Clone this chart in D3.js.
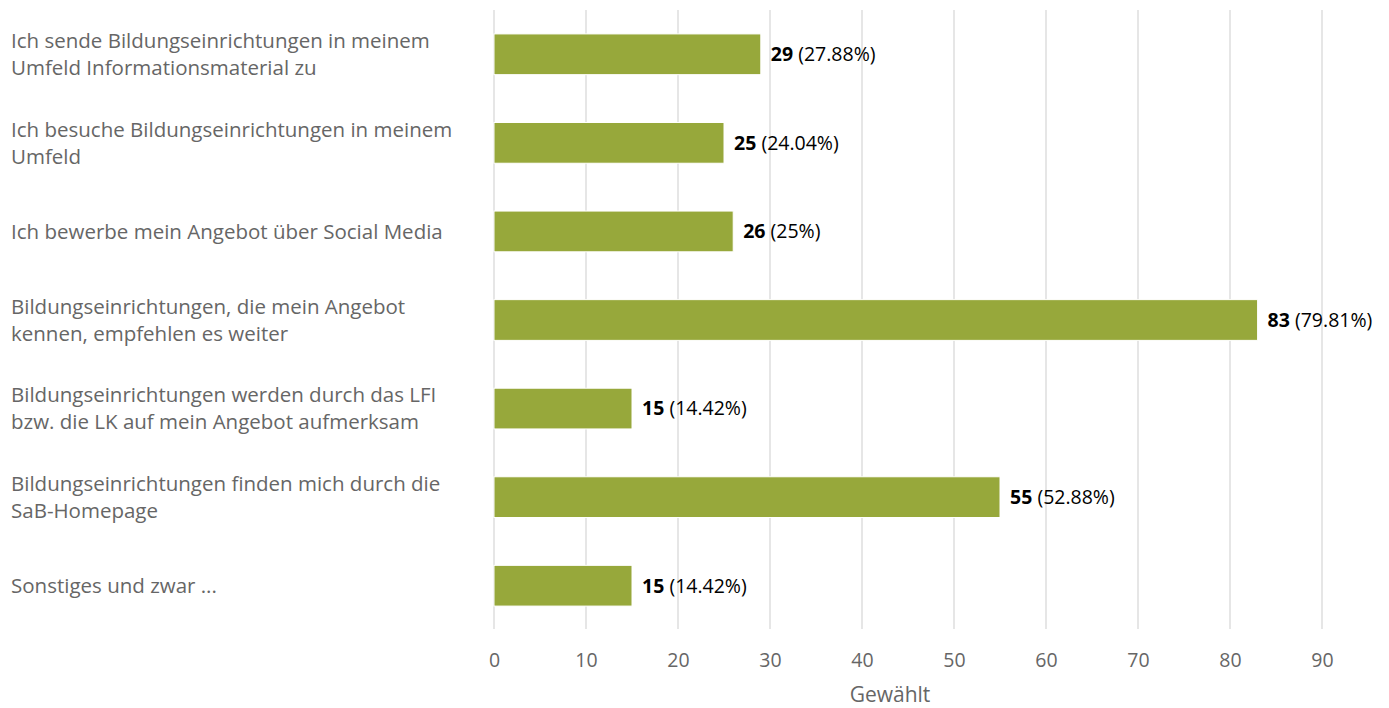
<!DOCTYPE html>
<html><head><meta charset="utf-8">
<script src="https://cdn.jsdelivr.net/npm/d3@7"></script>
<style>body{margin:0;background:#fff;font-family:"Open Sans",sans-serif;}</style>
</head><body>
<svg id="c" width="1389" height="708"></svg>
<script>
const categories = [
  ["Ich sende Bildungseinrichtungen in meinem","Umfeld Informationsmaterial zu"],
  ["Ich besuche Bildungseinrichtungen in meinem","Umfeld"],
  ["Ich bewerbe mein Angebot über Social Media"],
  ["Bildungseinrichtungen, die mein Angebot","kennen, empfehlen es weiter"],
  ["Bildungseinrichtungen werden durch das LFI","bzw. die LK auf mein Angebot aufmerksam"],
  ["Bildungseinrichtungen finden mich durch die","SaB-Homepage"],
  ["Sonstiges und zwar ..."]
];
const counts = [29, 25, 26, 83, 15, 55, 15];
const percents = ["27.88%", "24.04%", "25%", "79.81%", "14.42%", "52.88%", "14.42%"];
const ticks = [0,10,20,30,40,50,60,70,80,90];
const axisTitle = "Gewählt";

const svg = d3.select("#c");
const x = d3.scaleLinear().domain([0,90]).range([494,1322]);
const y = d3.scaleBand().domain(d3.range(categories.length)).range([10,630]).paddingInner(0.54).paddingOuter(0.27);

svg.append("g").selectAll("line").data(ticks).join("line")
  .attr("x1",d=>x(d)).attr("x2",d=>x(d)).attr("y1",10).attr("y2",629)
  .attr("stroke","#e6e6e6").attr("stroke-width",2);

const ax = svg.append("g").attr("transform","translate(0,640)")
  .call(d3.axisBottom(x).tickValues(ticks).tickSize(0).tickPadding(13));
ax.select(".domain").remove();
ax.selectAll("text").attr("font-family","Open Sans").attr("font-size",19.5).attr("fill","#666");

svg.append("text").attr("x",890).attr("y",702).attr("text-anchor","middle")
  .attr("font-size",21).attr("fill","#666").text(axisTitle);

svg.append("g").selectAll("rect").data(counts).join("rect")
  .attr("x",x(0)).attr("y",(d,i)=>y(i)).attr("width",d=>x(d)-x(0)).attr("height",y.bandwidth())
  .attr("fill","#97a83b").attr("stroke","#fff").attr("stroke-width",1);

const vl = svg.append("g").selectAll("text").data(counts).join("text")
  .attr("x",d=>x(d)+10).attr("y",(d,i)=>y(i)+y.bandwidth()/2).attr("dy","0.35em")
  .attr("font-size",19.5).attr("fill","#000");
vl.append("tspan").attr("font-weight","bold").text(d=>d);
vl.append("tspan").text((d,i)=>" ("+percents[i]+")");

const cl = svg.append("g").selectAll("text").data(categories).join("text")
  .attr("x",11).attr("font-size",20.5).attr("fill","#666");
cl.each(function(lines,i){
  const cy = y(i)+y.bandwidth()/2;
  const lh = 27;
  const start = cy - (lines.length-1)*lh/2;
  d3.select(this).selectAll("tspan").data(lines).join("tspan")
    .attr("x",11).attr("y",(d,j)=>start+j*lh).attr("dy","0.35em").text(d=>d);
});
</script>
</body></html>
